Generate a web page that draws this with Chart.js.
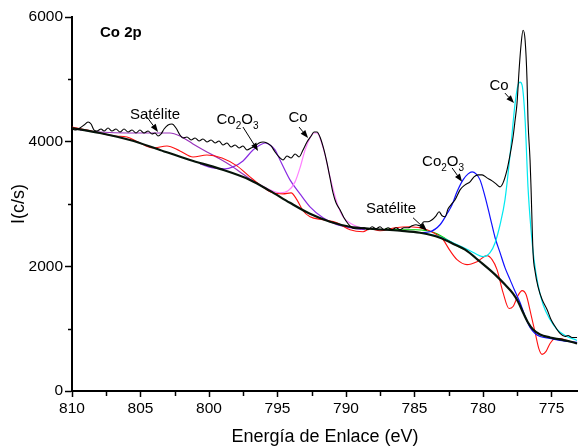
<!DOCTYPE html>
<html><head><meta charset="utf-8">
<script src="https://cdn.jsdelivr.net/npm/chart.js@4"></script>
<style>html,body{margin:0;padding:0;background:#fff;}canvas{display:block;}</style>
</head><body>
<canvas id="c" width="578" height="448"></canvas>
<script>
const FONT = "'Liberation Sans', Arial, sans-serif";

// ---- data (binding energy in eV, intensity in c/s) ----
const rawE = [810.00,809.71,809.42,809.12,808.83,808.61,808.39,808.18,807.88,807.66,807.37,807.08,806.79,806.50,806.20,805.91,805.62,805.33,805.04,804.74,804.45,804.16,803.94,803.72,803.50,803.28,802.99,802.70,802.41,802.12,801.90,801.61,801.31,801.02,800.73,800.44,800.15,799.85,799.56,799.27,798.98,798.69,798.39,798.10,797.81,797.52,797.23,796.93,796.64,796.35,796.06,795.77,795.47,795.18,794.89,794.60,794.31,794.01,793.72,793.43,793.14,792.85,792.55,792.34,792.12,791.90,791.61,791.39,791.17,790.95,790.73,790.44,790.15,789.85,789.56,789.27,788.98,788.69,788.39,788.10,787.81,787.52,787.23,786.93,786.64,786.35,786.06,785.77,785.47,785.18,784.89,784.60,784.31,784.01,783.72,783.43,783.21,782.99,782.77,782.55,782.34,782.04,781.68,781.31,780.95,780.66,780.36,780.07,779.71,779.34,779.05,778.76,778.54,778.25,778.03,777.81,777.66,777.52,777.37,777.23,777.08,776.93,776.79,776.72,776.57,776.50,776.35,776.20,775.99,775.69,775.33,775.04,774.74,774.38,774.01,773.80,773.50,773.14];
const rawI = [4203,4187,4219,4267,4315,4283,4187,4171,4203,4171,4219,4171,4203,4155,4203,4155,4187,4139,4187,4139,4171,4123,4139,4091,4123,4203,4267,4283,4219,4107,4059,4075,4027,4059,4011,4043,3995,4027,3979,4011,3947,3979,3915,3947,3899,3931,3867,3899,3931,3979,3995,3979,3931,3835,3755,3707,3771,3739,3803,3755,3867,3995,4091,4155,4155,4075,3867,3659,3419,3179,3019,2907,2779,2683,2619,2603,2603,2619,2587,2635,2603,2635,2587,2619,2587,2619,2587,2619,2619,2651,2667,2651,2715,2715,2747,2811,2875,2811,2795,2923,2987,3067,3227,3307,3355,3435,3467,3467,3419,3371,3323,3275,3339,3547,3787,4075,4347,4619,5147,5547,5787,5627,4987,4347,3707,3275,2219,1915,1675,1467,1307,1147,1035,923,875,891,859,859];

const bgE = [810.00,807.96,805.77,803.58,801.39,799.20,797.01,795.55,794.09,792.63,791.17,789.71,788.25,786.06,784.60,783.14,782.04,781.31,780.22,779.12,778.40,777.81,777.45,777.08,776.72,776.35,775.84,775.11,774.38,773.65,773.14];
const bgI = [4219,4139,4027,3867,3707,3563,3387,3211,3019,2843,2715,2635,2603,2571,2539,2459,2347,2267,2075,1867,1707,1563,1435,1259,1099,987,907,859,827,795,763];

const redE = [810.00,808.91,807.96,806.86,805.99,805.18,804.09,803.07,802.12,801.17,800.15,799.05,797.96,797.01,796.28,795.33,794.60,794.01,793.58,793.14,792.63,791.68,790.66,789.71,788.76,788.25,787.52,786.42,785.33,784.09,783.36,782.92,782.41,781.90,781.17,780.44,779.71,779.34,778.98,778.54,778.10,777.81,777.45,777.15,776.86,776.50,776.20,775.91,775.69,775.40,775.11,774.74,774.38,773.87,773.14];
const redI = [4235,4187,4139,4091,4075,3995,3899,3931,3851,3755,3787,3739,3611,3435,3307,3179,3163,3179,3067,2891,2795,2747,2699,2587,2555,2603,2571,2619,2635,2587,2507,2427,2251,2107,2027,2075,2171,2107,1947,1579,1323,1355,1531,1611,1547,1227,939,667,587,635,763,843,843,811,763];

const satAE = [809.42,807.96,805.99,804.31,802.85,802.12,801.17,800.15,799.20,798.47,797.74,797.01,796.28,795.55];
const satAI = [4187,4155,4139,4139,4139,4091,3963,3835,3723,3627,3515,3403,3307,3211];

const oxAE = [800.66,799.71,798.83,798.25,797.52,796.79,796.28,795.91,795.55,795.18,794.82,794.09,793.36,792.63,791.68,790.66,789.71,788.61];
const oxAI = [3643,3579,3563,3595,3691,3867,3947,3979,3947,3867,3707,3387,3163,2955,2779,2667,2619,2587];

const coAE = [796.28,795.55,794.82,794.23,793.72,793.36,792.99,792.63,792.34,792.12,791.90,791.53,791.17,790.66,790.22,789.49,788.61];
const coAI = [3307,3227,3179,3211,3355,3579,3867,4059,4139,4139,4059,3787,3435,3019,2795,2667,2603];

const oxBE = [784.60,783.87,783.14,782.63,782.26,781.90,781.46,781.09,780.80,780.51,780.22,779.85,779.49,779.12,778.76,778.40,778.03,777.66,777.30,776.93,776.57,776.20,775.84,775.11,774.38,773.14];
const oxBI = [2539,2555,2667,2843,2987,3195,3387,3483,3515,3483,3387,3115,2795,2459,2219,1979,1787,1595,1419,1195,1019,923,875,843,811,779];

const coBE = [784.60,783.14,782.04,780.95,780.00,779.49,779.12,778.76,778.40,778.03,777.66,777.45,777.30,777.15,776.93,776.72,776.50,776.28,775.99,775.62,775.11,774.60,774.01,773.14];
const coBI = [2539,2475,2363,2251,2155,2219,2379,2667,3067,3787,4619,4907,4955,4907,4347,3275,2587,2107,1707,1387,1147,987,891,811];

const satBE = [787.15,786.06,784.96,784.09,783.36,782.63,781.90,781.31];
const satBI = [2603,2587,2587,2571,2523,2427,2331,2267];

// ---- axes ----
const xTicks = [810, 805, 800, 795, 790, 785, 780, 775];
const xMinorTicks = [807.5, 802.5, 797.5, 792.5, 787.5, 782.5, 777.5];
const yTicks = [0, 2000, 4000, 6000];
const yMinorTicks = [1000, 3000, 5000];

// ---- annotations (data units) ----
const annText  = ['Satélite', 'Co2O3', 'Co', 'Co2O3', 'Satélite', 'Co'];
const annX     = [803.94, 797.92, 793.50, 782.92, 786.72, 778.83];
const annY     = [4427, 4347, 4379, 3675, 2923, 4891];
const arrFromX = [804.53, 797.52, 793.43, 782.26, 785.11, 778.40];
const arrFromY = [4395, 4235, 4235, 3579, 2779, 4779];
const arrToX   = [803.72, 796.42, 792.77, 781.53, 784.09, 777.74];
const arrToY   = [4155, 3851, 4059, 3355, 2571, 4619];
const panelTitle = 'Co 2p';

function pts(xs, ys) { return xs.map((x, i) => ({ x: x, y: ys[i] })); }

function segs(t) {
  const out = []; let i = 0;
  while (i < t.length) {
    const ch = t[i];
    if (/[0-9]/.test(ch) && i > 0 && /[A-Za-z]/.test(t[i-1])) { out.push({ s: ch, sub: true }); i++; continue; }
    let j = i; let s = '';
    while (j < t.length && !( /[0-9]/.test(t[j]) && j > 0 && /[A-Za-z]/.test(t[j-1]) )) { s += t[j]; j++; }
    out.push({ s: s, sub: false }); i = j;
  }
  return out;
}

const extras = {
  id: 'extras',
  afterDraw(chart) {
    const ctx = chart.ctx, xs = chart.scales.x, ys = chart.scales.y;
    ctx.save();
    ctx.strokeStyle = '#000'; ctx.fillStyle = '#000'; ctx.lineWidth = 1.5;
    xMinorTicks.forEach(v => { const p = Math.round(xs.getPixelForValue(v)) + 0.5; ctx.beginPath(); ctx.moveTo(p, xs.top); ctx.lineTo(p, xs.top + 5); ctx.stroke(); });
    yMinorTicks.forEach(v => { const p = Math.round(ys.getPixelForValue(v)) + 0.5; ctx.beginPath(); ctx.moveTo(ys.right, p); ctx.lineTo(ys.right - 4, p); ctx.stroke(); });
    // arrows
    ctx.lineWidth = 1;
    for (let i = 0; i < annText.length; i++) {
      const x1 = xs.getPixelForValue(arrFromX[i]), y1 = ys.getPixelForValue(arrFromY[i]);
      const x2 = xs.getPixelForValue(arrToX[i]), y2 = ys.getPixelForValue(arrToY[i]);
      const a = Math.atan2(y2 - y1, x2 - x1), L = 8, W = 3;
      ctx.beginPath(); ctx.moveTo(x1, y1); ctx.lineTo(x2 - L * Math.cos(a), y2 - L * Math.sin(a)); ctx.stroke();
      ctx.beginPath(); ctx.moveTo(x2, y2);
      ctx.lineTo(x2 - L * Math.cos(a) + W * Math.sin(a), y2 - L * Math.sin(a) - W * Math.cos(a));
      ctx.lineTo(x2 - L * Math.cos(a) - W * Math.sin(a), y2 - L * Math.sin(a) + W * Math.cos(a));
      ctx.closePath(); ctx.fill();
      // text
      const parts = segs(annText[i]);
      const big = '15px ' + FONT, small = '10px ' + FONT;
      let w = 0;
      parts.forEach(p => { ctx.font = p.sub ? small : big; w += ctx.measureText(p.s).width; });
      let cx = xs.getPixelForValue(annX[i]) - w / 2; const cy = ys.getPixelForValue(annY[i]);
      ctx.textBaseline = 'middle'; ctx.textAlign = 'left';
      parts.forEach(p => { ctx.font = p.sub ? small : big; ctx.fillText(p.s, cx, cy + (p.sub ? 6 : 0)); cx += ctx.measureText(p.s).width; });
    }
    ctx.font = 'bold 15px ' + FONT; ctx.textAlign = 'left'; ctx.textBaseline = 'middle';
    ctx.fillText(panelTitle, chart.chartArea.left + 28, chart.chartArea.top + 16);
    ctx.restore();
  }
};

function ds(label, xsArr, ysArr, color, width, order) {
  return { label: label, data: pts(xsArr, ysArr), borderColor: color, borderWidth: width, pointRadius: 0,
           fill: false, cubicInterpolationMode: 'monotone', order: order, borderJoinStyle: 'round' };
}

new Chart(document.getElementById('c'), {
  type: 'line',
  data: {
    datasets: [
      ds('Experimental', rawE, rawI, '#000000', 1.1, 0),
      ds('Fondo', bgE, bgI, '#06140a', 2.2, 1),
      ds('Co 2p3/2', coBE, coBI, '#00e8f0', 1.2, 2),
      ds('Co2O3 2p3/2', oxBE, oxBI, '#1010ff', 1.2, 3),
      ds('Residuo', redE, redI, '#ff1010', 1.1, 4),
      ds('Co 2p1/2', coAE, coAI, '#ff80ff', 1.2, 5),
      ds('Co2O3 2p1/2', oxAE, oxAI, '#8a2be2', 1.2, 6),
      ds('Satélite 2p1/2', satAE, satAI, '#9933bb', 1.2, 7),
      ds('Satélite 2p3/2', satBE, satBI, '#00d000', 1.2, 8)
    ]
  },
  options: {
    responsive: false, animation: false,
    layout: { padding: { top: 17, right: 0, left: 0, bottom: 0 } },
    plugins: { legend: { display: false }, tooltip: { enabled: false } },
    scales: {
      x: {
        type: 'linear', reverse: true, min: 773.07, max: 810,
        afterBuildTicks: s => { s.ticks = xTicks.map(v => ({ value: v })); },
        afterFit: s => { s.height = 57; },
        ticks: { color: '#000', font: { family: FONT, size: 15.5 }, padding: 2, maxRotation: 0, autoSkip: false, callback: v => String(v) },
        grid: { drawOnChartArea: false, drawTicks: true, tickLength: 6, tickColor: '#000', tickWidth: 1.5 },
        border: { display: true, color: '#000', width: 2 },
        title: { display: true, text: 'Energía de Enlace (eV)', color: '#000', font: { family: FONT, size: 18 }, padding: { top: 0, bottom: 0 } }
      },
      y: {
        type: 'linear', min: 0, max: 6000,
        afterBuildTicks: s => { s.ticks = yTicks.map(v => ({ value: v })); },
        afterFit: s => { s.width = 72; },
        ticks: { color: '#000', font: { family: FONT, size: 15.5 }, padding: 2, callback: v => String(v) },
        grid: { drawOnChartArea: false, drawTicks: true, tickLength: 7, tickColor: '#000', tickWidth: 1.5 },
        border: { display: true, color: '#000', width: 2 },
        title: { display: true, text: 'I(c/s)', color: '#000', font: { family: FONT, size: 18 }, padding: { top: 8, bottom: 0 } }
      }
    }
  },
  plugins: [extras]
});
</script>
</body></html>
